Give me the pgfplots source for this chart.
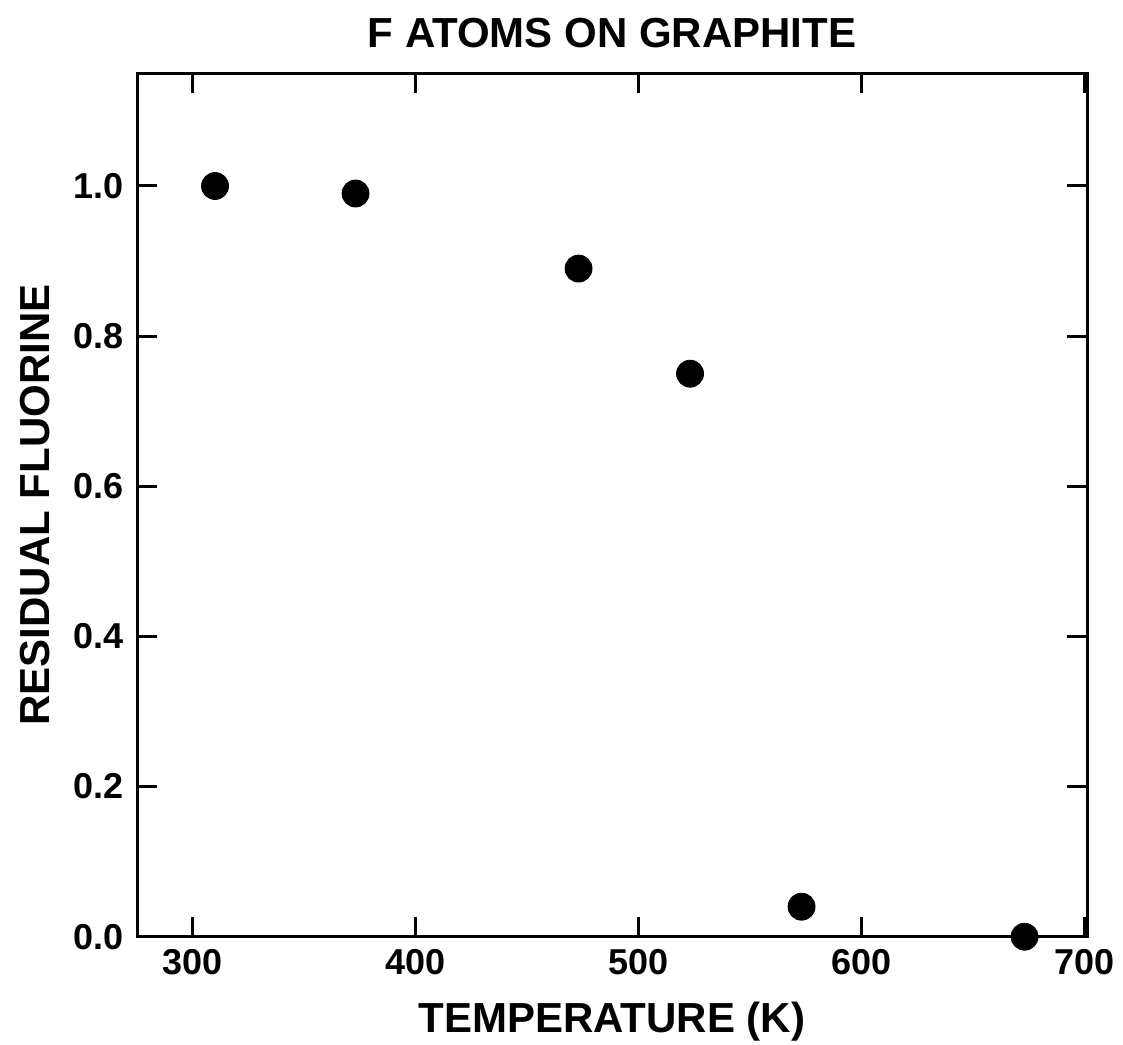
\documentclass[border=0pt]{standalone}
\usepackage{fontspec}
\setmainfont{Liberation Sans}
\usepackage{pgfplots}
\pgfplotsset{compat=1.18}
\begin{document}
\begin{tikzpicture}
\begin{axis}[
  at={(0,0)}, anchor=south west,
  scale only axis, width=475pt, height=431.65pt,
  xmin=275, xmax=701, ymin=0, ymax=1.15,
  xtick={300,400,500,600,700}, ytick={0,0.2,0.4,0.6,0.8,1.0},
  tick align=inside, major tick length=10pt,
  axis line style={line width=1.5pt},
  every tick/.style={line width=1.5pt, black},
  /pgf/number format/assume math mode=true,
  every tick label/.append style={font=\fontsize{18}{18}\selectfont\bfseries},
  yticklabel style={xshift=-3pt, /pgf/number format/.cd, fixed, fixed zerofill, precision=1},
  xticklabel style={yshift=-3pt, /pgf/number format/.cd, fixed, 1000 sep={}},
  every axis title shift=0pt,
  title={F ATOMS ON GRAPHITE},
  title style={at={(axis description cs:0.5,1.0297)}, anchor=base, font=\fontsize{21}{21}\selectfont\bfseries},
  xlabel={TEMPERATURE (K)},
  xlabel style={at={(axis description cs:0.5,-0.1111)}, anchor=base, font=\fontsize{21}{21}\selectfont\bfseries},
  ylabel={RESIDUAL FLUORINE},
  ylabel style={at={(axis description cs:-0.0916,0.5)}, anchor=base, rotate=0, font=\fontsize{21}{21}\selectfont\bfseries},
  clip=false,
]
\addplot[only marks, mark=*, mark size=6.75pt, black] coordinates {
  (310,1.0) (373,0.99) (473,0.89) (523,0.75) (573,0.04) (673,0.0)
};
\end{axis}
\pgfresetboundingbox
\path[use as bounding box] (-68.5pt,-54pt) rectangle (493pt,468.35pt);
\end{tikzpicture}
\end{document}
